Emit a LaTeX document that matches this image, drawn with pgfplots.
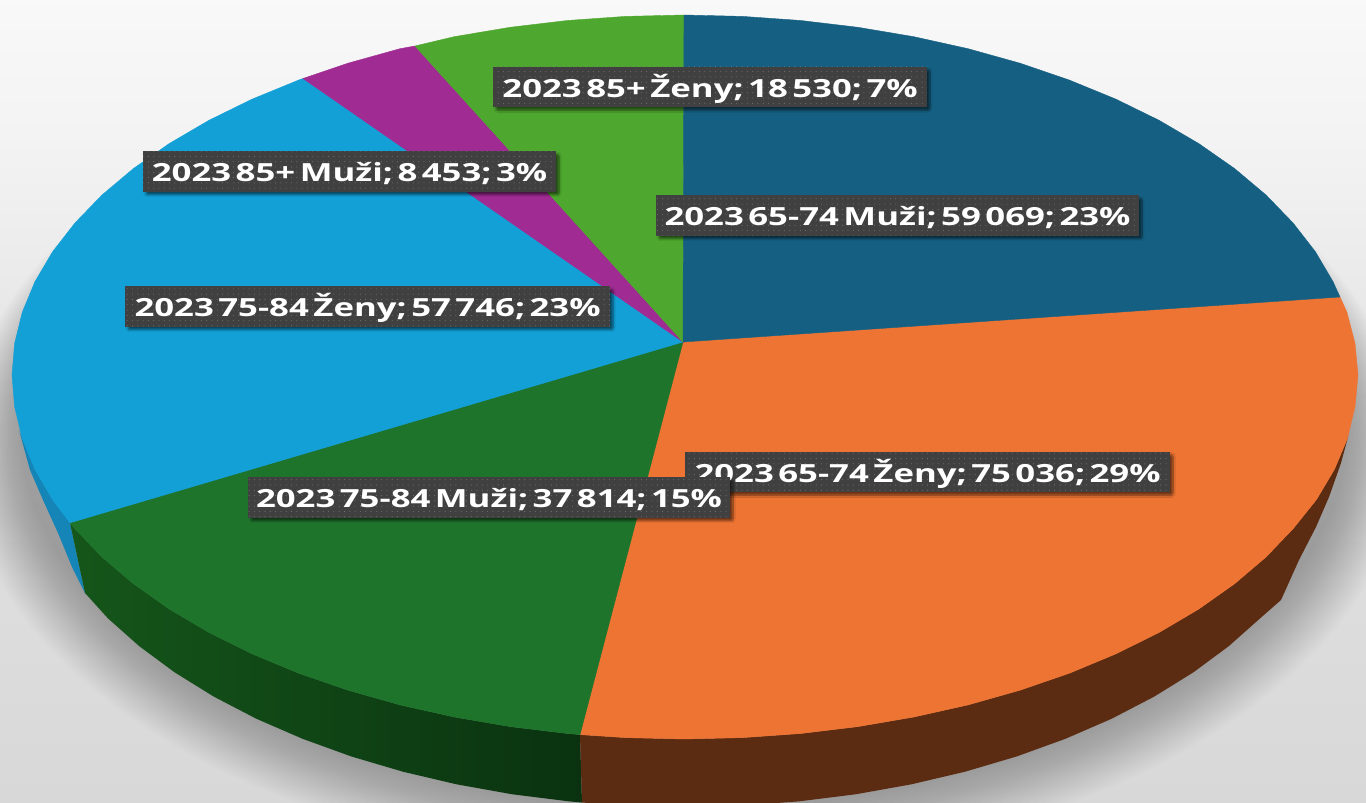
\documentclass[border=0pt]{standalone}
\usepackage{fontspec}
\usepackage{pgfplots}
\pgfplotsset{compat=1.18}
\usetikzlibrary{patterns.meta,shadows.blur}
\setmainfont[WordSpace=0.5,FakeStretch=1.39]{Open Sans}
\definecolor{cDarkBlue}{HTML}{156082}
\definecolor{cOrange}{HTML}{EE7433}
\definecolor{cGreen}{HTML}{1F742C}
\definecolor{cBlue}{HTML}{12A0D7}
\definecolor{cMagenta}{HTML}{A02B93}
\definecolor{cLime}{HTML}{4EA72E}
\definecolor{cBox}{HTML}{404040}
\definecolor{wBlue}{HTML}{1585B8}
\definecolor{wGreenA}{HTML}{15561A}
\definecolor{wGreenB}{HTML}{0A3210}
\definecolor{wOrange}{HTML}{5C2C12}
\definecolor{bgA}{HTML}{D8D8D8}
\definecolor{bgB}{HTML}{E2E2E2}
\definecolor{bgC}{HTML}{F2F2F2}
\definecolor{bgD}{HTML}{FCFCFC}
\pgfdeclareverticalshading{bgshade}{100bp}{color(0bp)=(bgA); color(25bp)=(bgA); color(50bp)=(bgB); color(65bp)=(bgC); color(80bp)=(bgD); color(100bp)=(bgD)}
\tikzset{
  lab/.style={anchor=center, inner sep=0pt, minimum height=40.5pt, text=white,
    text height=22pt, text depth=2pt,
    font=\fontsize{25}{30}\selectfont\bfseries,
    fill=cBox,
    blur shadow={shadow blur steps=8, shadow xshift=3pt, shadow yshift=-3pt, shadow blur extra rounding=2pt, shadow opacity=55},
    postaction={pattern={Dots[distance=5.3pt, radius=0.55pt]}, pattern color=white!25!cBox}},
}
\begin{document}
\begin{tikzpicture}
\path[use as bounding box] (0,0) rectangle (1366pt,803pt);
\begin{axis}[at={(0,0)}, anchor=south west, scale only axis, width=1366pt, height=803pt,
  xmin=0, xmax=1366, ymin=0, ymax=803, y dir=reverse, hide axis, clip=true]
% background
\shade[shading=bgshade] (axis cs:0,0) rectangle (axis cs:1366,803);
% soft shadow under the pie: a stack of faint ellipses
\pgfplotsinvokeforeach{0,...,23}{
  \fill[black, opacity=0.011] (axis cs:684,{430+0.85*#1}) ellipse [x radius={664+2.45*#1}, y radius={375+1.9*#1}];
}
% side walls
\addplot[draw=none, fill=wBlue] coordinates {
(19,430)(22.2,438.2)(34.9,469.2)(52.5,499.5)(70,522.8)(85,593)(72,567)(58,533)(43,500)(30,470)
} --cycle;
\addplot[draw=none, left color=wGreenA, right color=wGreenB] coordinates {
(70,522.8)(75,528.8)(102,557)(133.5,583.8)(169.2,609)(208.8,632.4)(252,653.8)(298.6,673.2)(348,690.2)(400,704.9)(454.2,717)(510.1,726.6)(567.3,733.5)(580,734.6)
(582,802.5)(568.5,801.3)(511.9,794.2)(456.6,784.3)(403,771.7)(351.5,756.5)(302.6,738.8)(256.5,718.8)(213.8,696.6)(174.6,672.3)(139.3,646.2)(108.1,618.5)(85,593)
} --cycle;
\addplot[draw=none, fill=wOrange] coordinates {
(1348,431)(1347.5,438.2)(1334.5,469.2)(1316.5,499.5)(1293,528.8)(1266,557)(1234.5,583.8)(1198.8,609)(1159.2,632.4)(1116,653.8)(1069.4,673.2)(1020,690.2)(968,704.9)(913.8,717)(857.9,726.6)(800.7,733.5)(742.6,737.6)(684,739)(625.4,737.6)(580,734.6)
(582,802.5)(626,805.6)(684,807)(742,805.6)(799.5,801.3)(856.1,794.2)(911.4,784.3)(965,771.7)(1016.5,756.5)(1065.4,738.8)(1111.5,718.8)(1154.2,696.6)(1193.4,672.3)(1228.7,646.2)(1259.9,618.5)(1281,600)(1299,560)(1316,527)(1329,497)(1341,463)(1348,437)
} --cycle;
% top faces
\addplot[draw=cOrange, line width=0.4pt, fill=cOrange] coordinates {
(683,342)(1340,297)(1347,312.5)(1355,343.6)(1358,375)(1355,406.7)(1347.5,438.2)(1334.5,469.2)(1316.5,499.5)(1293,528.8)(1266,557)(1234.5,583.8)(1198.8,609)(1159.2,632.4)(1116,653.8)(1069.4,673.2)(1020,690.2)(968,704.9)(913.8,717)(857.9,726.6)(800.7,733.5)(742.6,737.6)(684,739)(625.4,737.6)(580,734.6)
} --cycle;
\addplot[draw=cGreen, line width=0.4pt, fill=cGreen] coordinates {
(683,342)(70,522.8)(75,528.8)(102,557)(133.5,583.8)(169.2,609)(208.8,632.4)(252,653.8)(298.6,673.2)(348,690.2)(400,704.9)(454.2,717)(510.1,726.6)(567.3,733.5)(580,734.6)
} --cycle;
\addplot[draw=cBlue, line width=0.4pt, fill=cBlue] coordinates {
(683,342)(303,78.5)(298.6,80.1)(252,99.2)(208.8,120.4)(169.2,143.6)(133.5,168.5)(102,195)(75,222.9)(52.5,251.9)(34.9,281.8)(22.2,312.5)(14.6,343.6)(12,375)(14.6,406.7)(22.2,438.2)(34.9,469.2)(52.5,499.5)(70,522.8)
} --cycle;
\addplot[draw=cMagenta, line width=0.4pt, fill=cMagenta] coordinates {
(683,342)(415,46)(400,48.7)(348,63.2)(303,78.5)
} --cycle;
\addplot[draw=cLime, line width=0.4pt, fill=cLime] coordinates {
(683,342)(684,15)(625.4,16.4)(567.3,20.5)(510.1,27.3)(454.2,36.7)(415,46)
} --cycle;
\addplot[draw=cDarkBlue, line width=0.4pt, fill=cDarkBlue] coordinates {
(683,342)(684,15)(742.6,16.4)(800.7,20.5)(857.9,27.3)(913.8,36.7)(968,48.7)(1020,63.2)(1069.4,80.1)(1116,99.2)(1159.2,120.4)(1198.8,143.6)(1234.5,168.5)(1266,195)(1293,222.9)(1315.5,251.9)(1333.1,281.8)(1340,297)
} --cycle;
% data labels
\node[lab, minimum width=434pt] at (axis cs:710,87) {2023 85+ Ženy; 18 530; 7\%};
\node[lab, minimum width=413pt] at (axis cs:349.5,171.5) {2023 85+ Muži; 8 453; 3\%};
\node[lab, minimum width=483pt] at (axis cs:897.5,215.5) {2023 65-74 Muži; 59 069; 23\%};
\node[lab, minimum width=485pt] at (axis cs:367.5,306.5) {2023 75-84 Ženy; 57 746; 23\%};
\node[lab, minimum width=485pt] at (axis cs:927.5,472) {2023 65-74 Ženy; 75 036; 29\%};
\node[lab, minimum width=482pt] at (axis cs:489,497.5) {2023 75-84 Muži; 37 814; 15\%};
\end{axis}
\end{tikzpicture}
\end{document}
